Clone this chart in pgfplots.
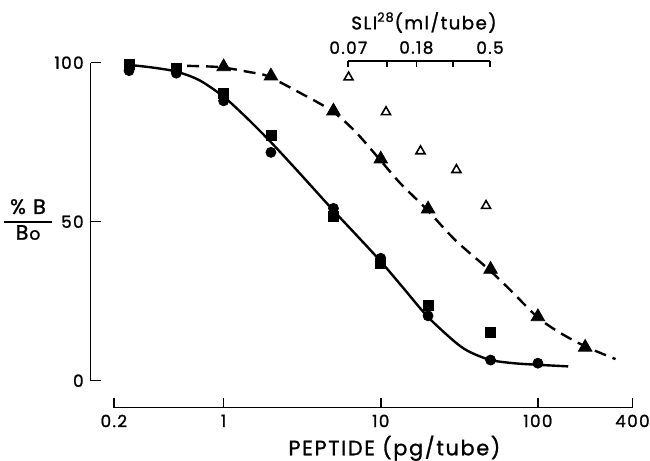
\documentclass[border=0pt]{standalone}
\usepackage{pgfplots}
\pgfplotsset{compat=1.18}
\usepackage{fontspec}
\setmainfont{Poppins}[LetterSpace=8, FakeBold=1.2]

\begin{document}
\begin{tikzpicture}[x=1pt,y=1pt]
\useasboundingbox (0,0) rectangle (325,230.5);
% main binding curves
\begin{axis}[
  at={(56.9pt,40.15pt)}, anchor=south west,
  scale only axis, width=259.35pt, height=159pt,
  xmode=log, xmin=0.2, xmax=400, ymin=0, ymax=100,
  axis x line=bottom, axis y line=left,
  axis x line shift=13.5pt, axis y line shift=11.55pt,
  axis line style={-, line width=0.8pt},
  tick align=inside, major tick length=5pt,
  tick style={black, line width=0.8pt},
  xtick={0.2,1,10,100,400}, xticklabels={0.2,1,10,100,400},
  ytick={0,50,100}, yticklabels={0,50,100},
  xminorticks=false, yminorticks=false,
  tick label style={font=\fontsize{8.4}{10}\selectfont},
  xlabel={PEPTIDE (pg/tube)},
  xlabel style={at={(axis description cs:0.541,-0.2125)}, anchor=center,
    font=\fontsize{10.4}{12}\selectfont},
  ylabel={\setlength{\arrayrulewidth}{0.9pt}%
    \begin{tabular}{@{\hspace{3pt}}c@{\hspace{3pt}}}\% B\\\hline
    B\kern0.5pt{\fontsize{8.5}{9}\selectfont o}\end{tabular}},
  ylabel style={rotate=-90, at={(axis description cs:-0.1654,0.499)},
    anchor=center, font=\fontsize{10.4}{12}\selectfont},
  clip=false,
]
\addplot[smooth, line width=1.2pt] coordinates {
  (0.25,99.3) (0.35,98.5) (0.5,97.2) (0.7,94.5) (1,89.3) (1.4,82.7)
  (2,75.0) (3,65.6) (5,53.5) (7,45.8) (10,37.5) (14,29.0) (20,20.0)
  (30,12.0) (37,9.0) (50,6.5) (70,5.5) (100,5.0) (156,4.5)
};
\addplot[smooth, line width=1.2pt, dash pattern=on 6pt off 3.5pt] coordinates {
  (0.585,99.0) (0.95,98.6) (1.475,97.0) (1.9,95.8) (3.07,90.5) (4.9,84.8)
  (6.9,78.3) (9.8,69.7) (13.3,62.1) (19.5,54.0) (29.8,44.2) (48.4,35.1)
  (66.8,28.5) (99.3,20.0) (139,15.0) (204,10.6) (312,6.8)
};
% filled circles
\addplot[only marks, mark=*, mark size=2.5pt] coordinates {
  (0.25,97.5) (0.5,96.7) (1,88.0) (2,71.8) (5,54.2) (10,38.5)
  (20,20.4) (50,6.5) (100,5.5)
};
% filled squares
\addplot[only marks, mark=square*, mark size=2.5pt] coordinates {
  (0.25,99.6) (0.5,98.2) (1,90.4) (2,77.0) (5,51.6) (10,36.9)
  (20,23.6) (50,15.1)
};
% filled triangles
\addplot[only marks, mark=triangle*, mark size=3.9pt] coordinates {
  (1,98.7) (2,95.8) (5,84.8) (10,69.7) (20,54.0) (50,35.0)
  (100,20.1) (200,10.5)
};
% open triangles (SLI)
\addplot[only marks, mark=triangle, mark size=2.6pt, line width=0.8pt] coordinates {
  (6.24,95.4) (10.8,84.5) (17.9,72.2) (30.3,66.3) (46.8,55.0)
};
\end{axis}
% top scale for SLI
\begin{axis}[
  at={(174.15pt,200pt)}, anchor=north west,
  scale only axis, width=70.85pt, height=5pt,
  xmode=log, xmin=0.07, xmax=0.5, ymin=0, ymax=1,
  axis x line=top, axis y line=none,
  axis line style={-, line width=0.8pt},
  tick align=inside, major tick length=3pt,
  tick style={black, line width=0.8pt},
  xtick={0.07,0.12,0.18,0.3,0.5}, xticklabels={0.07,,0.18,,0.5},
  xminorticks=false, ytick=\empty,
  tick label style={font=\fontsize{8.4}{10}\selectfont},
  xlabel={SLI\textsuperscript{28}(ml/tube)},
  xlabel style={at={(axis description cs:0.534,1)}, yshift=19.25pt,
    anchor=center, font=\fontsize{9.1}{11}\selectfont},
]
\addplot[draw=none] coordinates {(0.1,0.5)};
\end{axis}
\end{tikzpicture}
\end{document}
